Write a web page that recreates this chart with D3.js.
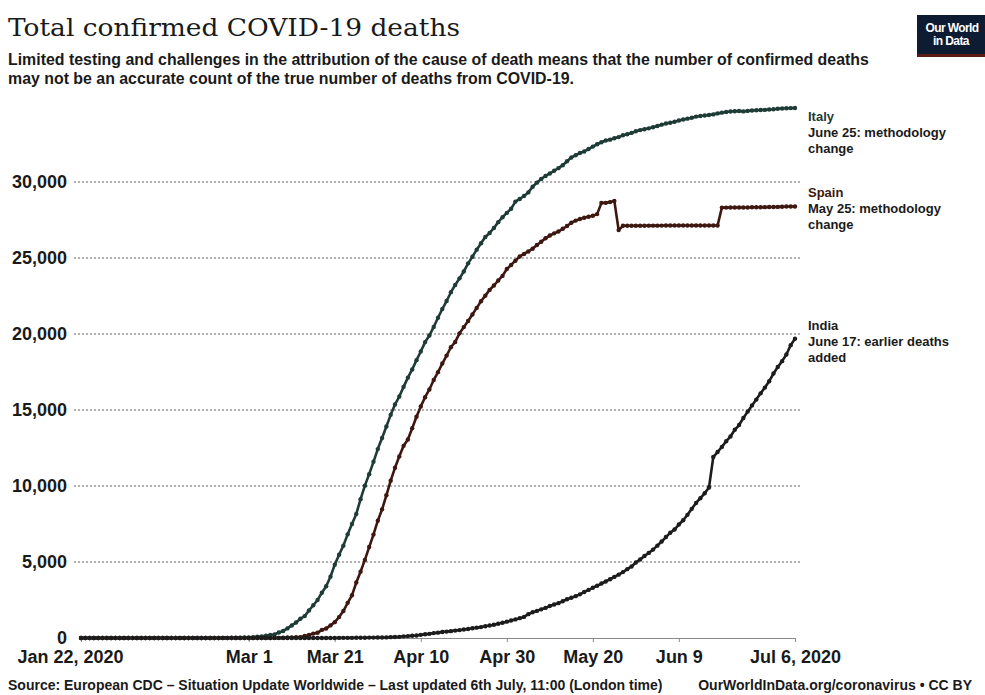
<!DOCTYPE html>
<html>
<head>
<meta charset="utf-8">
<script src="https://cdn.jsdelivr.net/npm/d3@7"></script>
<style>
  body { margin: 0; background: #ffffff; }
</style>
</head>
<body>
<script>
// #region DATA
// daily cumulative confirmed deaths, Jan 22 2020 -> Jul 6 2020
var startDate = new Date(2020, 0, 22);

var italyDeaths = [
    0,0,0,0,0,0,0,0,0,0,
    0,0,0,0,0,0,0,0,0,0,0,0,0,0,0,0,0,0,0,0,
    1,2,3,7,10,12,17,21,29,
    34,52,79,107,148,197,233,366,463,631,827,1016,1266,1441,1809,2158,2503,2978,3405,4032,4825,5476,6077,6820,7503,8165,9134,10023,10779,11591,12428,
    13155,13915,14681,15362,15887,16523,17127,17669,18279,18849,19468,19899,20465,21067,21645,22170,22745,23227,23660,24114,24648,25085,25549,25969,26384,26644,26977,27359,27682,27967,
    28236,28710,28884,29079,29315,29684,29958,30201,30395,30560,30739,30911,31106,31368,31610,31763,31908,32007,32169,32330,32486,32616,32735,32785,32877,32955,33072,33142,33229,33340,33415,
    33475,33530,33601,33689,33774,33846,33899,33964,34043,34114,34167,34223,34301,34345,34371,34405,34448,34514,34561,34610,34634,34657,34675,34644,34678,34708,34716,34738,34744,34767,
    34788,34818,34833,34854,34861,34869
];

var spainDeaths = [
    0,0,0,0,0,0,0,0,0,0,
    0,0,0,0,0,0,0,0,0,0,0,0,0,0,0,0,0,0,0,0,0,0,0,0,0,0,0,0,0,
    0,0,0,
    1,2,3,5,10,17,28,35,54,55,133,195,289,342,533,623,830,1043,1375,1772,2311,2808,3647,4365,5138,5982,6803,7716,
    8464,9387,10348,11198,11947,12641,13055,13798,14555,15238,15843,16353,16972,17489,18056,18579,19130,19478,20043,20453,20852,21282,21717,22157,22524,22902,23190,23521,23822,24275,
    24543,24824,25100,25264,25428,25613,25857,26070,26299,26478,26621,26744,26920,27104,27321,27459,27563,27650,27709,27778,27888,28628,28628,28678,28752,26834,27117,27117,27119,27121,27125,
    27125,27127,27127,27128,27133,27134,27135,27136,27136,27136,27136,27136,27136,27136,27136,27136,27136,27136,28315,28315,28322,28323,28324,28325,28327,28338,28341,28343,28346,28355,
    28355,28363,28368,28385,28385,28388
];

var indiaDeaths = [
    0,0,0,0,0,0,0,0,0,0,
    0,0,0,0,0,0,0,0,0,0,0,0,0,0,0,0,0,0,0,0,0,0,0,0,0,0,0,0,0,
    0,0,0,0,0,0,0,0,0,0,
    1,1,2,2,2,2,3,3,4,4,4,7,9,10,10,13,17,19,25,27,32,
    35,41,56,62,77,109,124,149,169,206,242,273,324,353,392,420,452,488,519,559,590,640,681,718,775,824,872,934,1007,1075,
    1152,1223,1306,1389,1568,1694,1783,1886,1981,2109,2206,2293,2415,2549,2649,2752,2872,3029,3163,3303,3435,3583,3720,3867,4021,4167,4337,4531,4706,4971,5164,
    5394,5598,5815,6075,6348,6642,6929,7135,7466,7745,8102,8498,8884,9195,9520,9900,11903,12237,12573,12948,13254,13699,14011,14476,14894,15301,15685,16095,16475,16893,
    17400,17834,18213,18655,19268,19693
];

var countries = ["Italy", "Spain", "India"];
var countryNotes = [
    ["June 25: methodology", "change"],
    ["May 25: methodology", "change"],
    ["June 17: earlier deaths", "added"]
];

var yTicks = [0, 5000, 10000, 15000, 20000, 25000, 30000];
var xTickDates = [
    new Date(2020, 0, 22), new Date(2020, 2, 1), new Date(2020, 2, 21), new Date(2020, 3, 10),
    new Date(2020, 3, 30), new Date(2020, 4, 20), new Date(2020, 5, 9), new Date(2020, 6, 6)
];
var xTickLabels = ["Jan 22, 2020", "Mar 1", "Mar 21", "Apr 10", "Apr 30", "May 20", "Jun 9", "Jul 6, 2020"];
// #endregion

// #region SETUP
var width = 985, height = 695;
var sans = "'Liberation Sans', Arial, sans-serif";

var svg = d3.select("body")
    .append("svg")
    .attr("width", width)
    .attr("height", height)
    .style("font-family", sans);

svg.append("rect")
    .attr("width", width)
    .attr("height", height)
    .attr("fill", "#ffffff");

var colors = d3.scaleOrdinal()
    .domain(countries)
    .range(["#1e3b36", "#3d1710", "#1c1c1c"]);

var x = d3.scaleTime()
    .domain([xTickDates[0], xTickDates[xTickDates.length - 1]])
    .range([81, 795]);

var y = d3.scaleLinear()
    .domain([0, 30000])
    .range([638, 182]);

function toSeries(arr) {
    return arr.map(function(v, i) {
        return { date: d3.timeDay.offset(startDate, i), value: v };
    });
}

var series = [
    { name: "Italy", values: toSeries(italyDeaths), labelOffset: 13 },
    { name: "Spain", values: toSeries(spainDeaths), labelOffset: -10 },
    { name: "India", values: toSeries(indiaDeaths), labelOffset: -9 }
];
// #endregion

// #region HEADER
svg.append("text")
    .text("Total confirmed COVID-19 deaths")
    .attr("x", 8)
    .attr("y", 36)
    .style("font-family", "'DejaVu Serif', 'Liberation Serif', serif")
    .style("font-size", "25px")
    .attr("textLength", 452)
    .attr("lengthAdjust", "spacingAndGlyphs")
    .attr("fill", "#1a1a1a");

svg.append("text")
    .text("Limited testing and challenges in the attribution of the cause of death means that the number of confirmed deaths")
    .attr("x", 8)
    .attr("y", 65)
    .style("font-size", "15.9px")
    .style("font-weight", "bold")
    .attr("fill", "#1a1a1a");

svg.append("text")
    .text("may not be an accurate count of the true number of deaths from COVID-19.")
    .attr("x", 8)
    .attr("y", 84)
    .style("font-size", "15.9px")
    .style("font-weight", "bold")
    .attr("fill", "#1a1a1a");

// logo
var logo = svg.append("g").attr("id", "logo");
logo.append("rect")
    .attr("x", 917).attr("y", 15)
    .attr("width", 68).attr("height", 42)
    .attr("fill", "#0d1b33");
logo.append("rect")
    .attr("x", 917).attr("y", 54)
    .attr("width", 68).attr("height", 3)
    .attr("fill", "#5a1a14");
logo.append("text")
    .text("Our World")
    .attr("x", 952).attr("y", 32)
    .attr("text-anchor", "middle")
    .attr("fill", "#ffffff")
    .style("font-size", "12px")
    .style("font-weight", "bold")
    .style("letter-spacing", "-0.6px");
logo.append("text")
    .text("in Data")
    .attr("x", 951).attr("y", 45)
    .attr("text-anchor", "middle")
    .attr("fill", "#ffffff")
    .style("font-size", "12px")
    .style("font-weight", "bold")
    .style("letter-spacing", "-0.6px");
// #endregion

// #region AXES
// gridlines
svg.append("g")
    .attr("id", "grid")
    .selectAll("line")
    .data(yTicks.filter(d => d > 0))
    .enter()
    .append("line")
        .attr("x1", 74)
        .attr("x2", 800)
        .attr("y1", d => y(d))
        .attr("y2", d => y(d))
        .attr("stroke", "#9a9a9a")
        .attr("stroke-width", 1.3)
        .attr("stroke-dasharray", "2,2");

var yAxis = svg.append("g")
    .attr("transform", "translate(67,0)")
    .call(d3.axisLeft(y).tickValues(yTicks).tickSize(0).tickPadding(0).tickFormat(d3.format(",")));
yAxis.select(".domain").remove();
yAxis.selectAll("text")
    .style("font-family", sans)
    .style("font-size", "18px")
    .style("font-weight", "bold")
    .attr("fill", "#1a1a1a");

var xAxis = svg.append("g")
    .attr("transform", "translate(0," + y(0) + ")")
    .call(d3.axisBottom(x)
        .tickValues(xTickDates)
        .tickSize(4)
        .tickSizeOuter(0)
        .tickPadding(8)
        .tickFormat((d, i) => xTickLabels[i]));
xAxis.select(".domain").attr("stroke", "#8a8a8a");
xAxis.selectAll(".tick line").attr("stroke", "#8a8a8a");
xAxis.selectAll("text")
    .style("font-family", sans)
    .style("font-size", "18px")
    .style("font-weight", "bold")
    .attr("fill", "#1a1a1a");
// first label sits left-aligned under the axis start
xAxis.selectAll(".tick text")
    .filter((d, i) => i == 0)
    .attr("text-anchor", "start")
    .attr("x", -64);
// #endregion

// #region LINES
var line = d3.line()
    .x(d => x(d.date))
    .y(d => y(d.value));

var lines = svg.append("g").attr("id", "lines");

lines.selectAll("path")
    .data(series)
    .enter()
    .append("path")
        .attr("d", d => line(d.values))
        .attr("fill", "none")
        .attr("stroke", d => colors(d.name))
        .attr("stroke-width", 2.6)
        .attr("stroke-linejoin", "round");

lines.selectAll("g.dots")
    .data(series)
    .enter()
    .append("g")
    .attr("class", "dots")
    .attr("fill", d => colors(d.name))
    .selectAll("circle")
    .data(d => d.values)
    .enter()
    .append("circle")
        .attr("cx", d => x(d.date))
        .attr("cy", d => y(d.value))
        .attr("r", 2.2);
// #endregion

// #region LABELS
var labels = svg.append("g").attr("id", "labels");

series.forEach(function(s, i) {
    var last = s.values[s.values.length - 1];
    var baseY = y(last.value) + s.labelOffset;
    var g = labels.append("g");
    g.append("text")
        .text(s.name)
        .attr("x", 808)
        .attr("y", baseY)
        .attr("fill", colors(s.name))
        .style("font-size", "13px")
        .style("font-weight", "bold");
    g.selectAll("text.note")
        .data(countryNotes[i])
        .enter()
        .append("text")
        .attr("class", "note")
        .text(d => d)
        .attr("x", 808)
        .attr("y", (d, j) => baseY + 16 * (j + 1))
        .attr("fill", "#1a1a1a")
        .style("font-size", "13px")
        .style("font-weight", "bold");
});
// #endregion

// #region FOOTER
svg.append("text")
    .text("Source: European CDC \u2013 Situation Update Worldwide \u2013 Last updated 6th July, 11:00 (London time)")
    .attr("x", 8)
    .attr("y", 690)
    .style("font-size", "14px")
    .style("font-weight", "bold")
    .attr("fill", "#1a1a1a");

svg.append("text")
    .text("OurWorldInData.org/coronavirus \u2022 CC BY")
    .attr("x", 972)
    .attr("y", 690)
    .attr("text-anchor", "end")
    .style("font-size", "14px")
    .style("font-weight", "bold")
    .attr("fill", "#1a1a1a");
// #endregion
</script>
</body>
</html>
